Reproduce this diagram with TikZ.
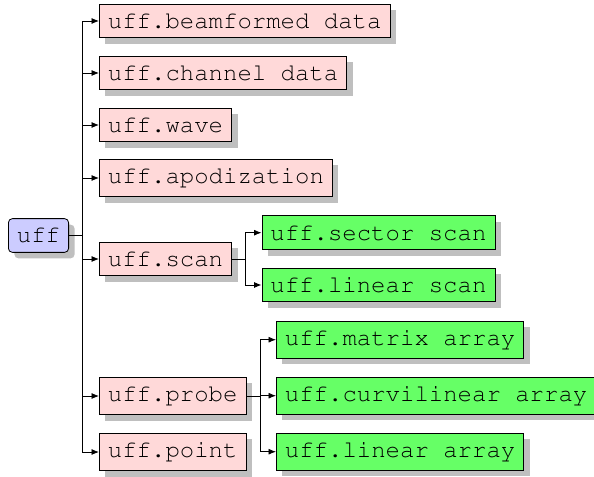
\documentclass[tikz,border=0pt]{standalone}
\usepackage[T1]{fontenc}
\usetikzlibrary{shadows,arrows.meta}
\definecolor{pinkfill}{RGB}{255,217,217}
\definecolor{greenfill}{RGB}{102,255,102}
\definecolor{bluefill}{RGB}{204,204,255}
\newcommand{\courierfont}{\fontencoding{T1}\fontfamily{pcr}\fontseries{m}\fontshape{n}\fontsize{24bp}{28bp}\selectfont}
\begin{document}
\begin{tikzpicture}[x=1bp,y=-1bp,
  box/.style={draw=black, line width=0.8bp,
    font=\courierfont,
    inner xsep=8.5bp, inner ysep=9bp, anchor=west,
    drop shadow={shadow xshift=6bp, shadow yshift=-6bp, fill=black, opacity=0.25}},
  rootbox/.style={box, fill=bluefill, rounded corners=4bp},
  pinkbox/.style={box, fill=pinkfill},
  greenbox/.style={box, fill=greenfill},
  conn/.style={line width=0.8bp, -{Latex[length=7.5bp,width=6bp]}}
]
\useasboundingbox (0,0) rectangle (594,477);

\node[rootbox] (uff) at (8,235.5) {uff};

\node[pinkbox] (bf)   at (99,21)  {uff.beamformed data};
\node[pinkbox] (ch)   at (99,73)  {uff.channel data};
\node[pinkbox] (wave) at (99,125) {uff.wave};
\node[pinkbox] (apod) at (99,178) {uff.apodization};
\node[pinkbox] (scan) at (99,259) {uff.scan};
\node[pinkbox] (probe) at (99,396) {uff.probe};
\node[pinkbox] (point) at (99,452) {uff.point};

\node[greenbox] (sector) at (261.5,232.7) {uff.sector scan};
\node[greenbox] (linscan) at (261.5,285) {uff.linear scan};

\node[greenbox] (matrix) at (276,339.7) {uff.matrix array};
\node[greenbox] (curvi) at (276,395.7) {uff.curvilinear array};
\node[greenbox] (linarr) at (276,451.7) {uff.linear array};

\foreach \c in {bf,ch,wave,apod,scan,probe,point}
  \draw[conn] (uff.east) -- ++(13.6,0) |- (\c.west);
\foreach \c in {sector,linscan}
  \draw[conn] (scan.east) -- ++(13.6,0) |- (\c.west);
\foreach \c in {matrix,curvi,linarr}
  \draw[conn] (probe.east) -- ++(14,0) |- (\c.west);
\end{tikzpicture}
\end{document}
